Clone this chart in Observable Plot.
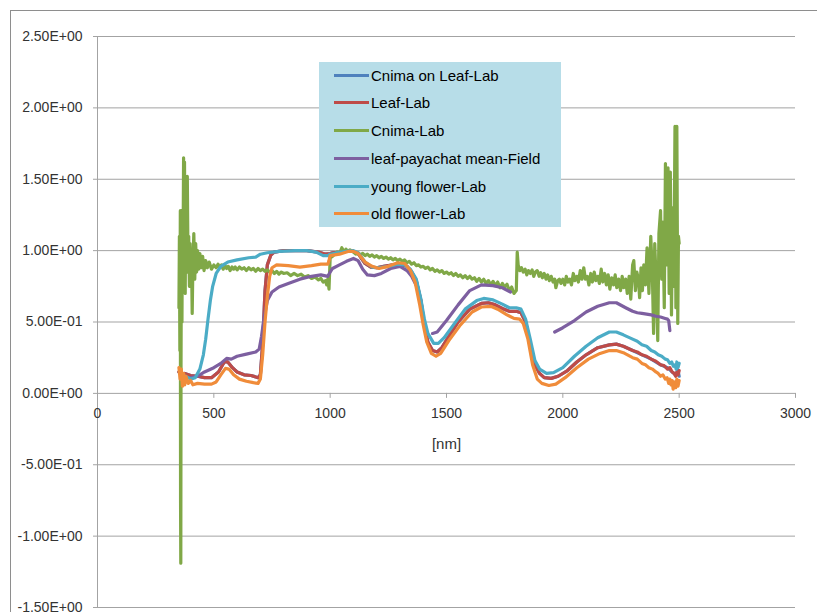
<!DOCTYPE html>
<html><head><meta charset="utf-8">
<script src="https://cdn.jsdelivr.net/npm/d3@7"></script>
<script src="https://cdn.jsdelivr.net/npm/@observablehq/plot@0.6"></script>
<style>
body{margin:0;background:#fff;font-family:"Liberation Sans",Arial,sans-serif}
#wrap{position:relative;width:817px;height:612px;overflow:hidden;background:#fff}
#border{position:absolute;left:10px;top:10px;width:900px;height:700px;border:1.5px solid #8e8e8e}
#plot{position:absolute;left:0;top:0}
#legend{position:absolute;left:319px;top:62px;width:242px;height:165px;background:#b7dde8}
.row{position:absolute;left:15px;height:20px;display:flex;align-items:center;font-size:15px;color:#000;white-space:nowrap}
.sw{width:35px;height:3px;margin-right:2px}
</style></head>
<body>
<div id="wrap"><div id="border"></div><div id="plot"></div><div id="legend"></div></div>
<script>
const seriesNames = ["Cnima on Leaf-Lab","Leaf-Lab","Cnima-Lab","leaf-payachat mean-Field","young flower-Lab","old flower-Lab"];
const seriesColors = ["#4f81bd","#be4b48","#80a847","#7d5fa0","#4bacc6","#f08c3a"];
const yTicks = [-1.5,-1,-0.5,0,0.5,1,1.5,2,2.5];
const xTicks = [0,500,1000,1500,2000,2500,3000];

const cnimaOnLeafLab = [[350,0.15],[360,0.13],[375,0.14],[400,0.125],[430,0.12],[460,0.11],[490,0.11],[520,0.15],[545,0.22],[560,0.22],[580,0.18],[600,0.15],[630,0.13],[660,0.125],[690,0.11],[700,0.13],[710,0.35],[720,0.72],[730,0.9],[745,0.97],[760,0.99],[800,1.0],[850,1.0],[900,1.0],[950,0.99],[980,0.975],[1000,0.98],[1010,0.985],[1050,0.99],[1080,1.0],[1100,0.995],[1120,0.98],[1150,0.91],[1175,0.885],[1200,0.88],[1230,0.89],[1270,0.9],[1300,0.905],[1330,0.89],[1350,0.85],[1370,0.79],[1390,0.65],[1405,0.48],[1420,0.36],[1440,0.3],[1460,0.29],[1480,0.32],[1510,0.4],[1550,0.5],[1600,0.59],[1650,0.63],[1680,0.635],[1710,0.62],[1740,0.595],[1770,0.575],[1800,0.575],[1820,0.565],[1840,0.5],[1860,0.35],[1880,0.2],[1900,0.14],[1920,0.11],[1950,0.105],[1980,0.12],[2020,0.16],[2060,0.22],[2100,0.27],[2150,0.32],[2200,0.34],[2230,0.345],[2260,0.33],[2300,0.3],[2340,0.27],[2380,0.24],[2420,0.2],[2450,0.18],[2470,0.15],[2485,0.13],[2495,0.16],[2500,0.12]];

const leafLab = [[350,0.15],[360,0.13],[375,0.14],[400,0.125],[430,0.12],[460,0.11],[490,0.11],[520,0.15],[545,0.22],[560,0.22],[580,0.18],[600,0.15],[630,0.13],[660,0.125],[690,0.11],[700,0.13],[710,0.35],[720,0.72],[730,0.9],[745,0.97],[760,0.99],[800,1.0],[850,1.0],[900,1.0],[950,0.99],[980,0.975],[1000,0.98],[1010,0.985],[1050,0.99],[1080,1.0],[1100,0.995],[1120,0.98],[1150,0.91],[1175,0.885],[1200,0.88],[1230,0.89],[1270,0.9],[1300,0.905],[1330,0.89],[1350,0.85],[1370,0.79],[1390,0.65],[1405,0.48],[1420,0.36],[1440,0.3],[1460,0.29],[1480,0.32],[1510,0.4],[1550,0.5],[1600,0.59],[1650,0.63],[1680,0.635],[1710,0.62],[1740,0.595],[1770,0.575],[1800,0.575],[1820,0.565],[1840,0.5],[1860,0.35],[1880,0.2],[1900,0.14],[1920,0.11],[1950,0.105],[1980,0.12],[2020,0.16],[2060,0.22],[2100,0.27],[2150,0.32],[2200,0.34],[2230,0.345],[2260,0.33],[2300,0.3],[2320,0.29],[2340,0.27],[2360,0.26],[2380,0.24],[2400,0.225],[2420,0.2],[2435,0.195],[2450,0.17],[2460,0.18],[2470,0.15],[2478,0.14],[2485,0.12],[2490,0.15],[2495,0.13],[2500,0.16]];

const cnimaLab = [[350,0.6],[352,1.1],[354,0.3],[356,1.28],[357,-0.77],[358,-1.19],[359,0.2],[361,1.28],[363,0.5],[365,1.2],[367,0.8],[370,1.65],[372,0.9],[374,1.62],[377,0.7],[380,1.52],[383,0.85],[386,1.52],[389,0.9],[392,1.1],[395,0.75],[398,1.05],[401,0.8],[404,0.95],[407,0.56],[410,0.9],[414,1.12],[418,0.8],[422,1.05],[426,0.85],[430,1.0],[435,0.87],[440,0.98],[446,0.88],[452,0.96],[458,0.86],[465,0.93],[472,0.88],[480,0.92],[490,0.87],[500,0.9],[510,0.88],[518,0.905],[525,0.88],[533,0.9],[540,0.87],[548,0.895],[555,0.875],[562,0.89],[570,0.86],[578,0.885],[585,0.87],[592,0.885],[600,0.865],[610,0.885],[620,0.87],[630,0.88],[640,0.86],[650,0.88],[660,0.865],[670,0.875],[680,0.855],[690,0.875],[700,0.86],[710,0.87],[720,0.855],[730,0.865],[740,0.85],[750,0.86],[760,0.84],[770,0.855],[780,0.835],[790,0.85],[800,0.84],[815,0.845],[830,0.825],[845,0.84],[860,0.825],[875,0.835],[890,0.815],[905,0.825],[920,0.805],[935,0.815],[950,0.795],[960,0.805],[970,0.78],[980,0.79],[985,0.76],[990,0.8],[995,0.73],[1000,0.95],[1010,0.96],[1020,0.975],[1030,0.99],[1040,0.98],[1050,1.02],[1060,0.99],[1068,1.01],[1075,0.995],[1085,1.005],[1100,0.99],[1110,0.975],[1120,0.985],[1130,0.97],[1140,0.98],[1150,0.965],[1160,0.975],[1170,0.96],[1180,0.97],[1190,0.955],[1200,0.965],[1210,0.95],[1220,0.96],[1230,0.945],[1240,0.955],[1250,0.94],[1260,0.95],[1270,0.935],[1280,0.945],[1290,0.93],[1300,0.94],[1310,0.925],[1320,0.935],[1330,0.915],[1340,0.925],[1350,0.905],[1360,0.915],[1370,0.895],[1380,0.9],[1390,0.885],[1400,0.89],[1410,0.875],[1420,0.885],[1430,0.865],[1440,0.875],[1450,0.855],[1460,0.865],[1470,0.85],[1480,0.86],[1490,0.84],[1500,0.85],[1510,0.835],[1520,0.845],[1530,0.825],[1540,0.84],[1550,0.82],[1560,0.83],[1570,0.81],[1580,0.825],[1590,0.805],[1600,0.82],[1610,0.8],[1620,0.81],[1630,0.785],[1640,0.805],[1650,0.78],[1660,0.8],[1670,0.77],[1680,0.79],[1690,0.76],[1700,0.785],[1710,0.755],[1720,0.78],[1730,0.74],[1740,0.77],[1750,0.745],[1760,0.765],[1770,0.72],[1780,0.745],[1790,0.7],[1800,0.72],[1804,0.99],[1808,0.9],[1815,0.86],[1822,0.88],[1830,0.85],[1838,0.87],[1845,0.83],[1852,0.86],[1860,0.84],[1868,0.865],[1875,0.82],[1882,0.85],[1890,0.86],[1898,0.82],[1905,0.845],[1912,0.81],[1920,0.84],[1928,0.8],[1935,0.83],[1942,0.79],[1950,0.82],[1958,0.78],[1965,0.8],[1970,0.74],[1978,0.79],[1985,0.8],[1992,0.77],[2000,0.8],[2008,0.76],[2015,0.82],[2022,0.78],[2030,0.8],[2037,0.76],[2045,0.84],[2052,0.79],[2060,0.82],[2067,0.78],[2075,0.86],[2082,0.8],[2090,0.88],[2097,0.8],[2105,0.82],[2112,0.76],[2120,0.84],[2127,0.78],[2135,0.85],[2142,0.79],[2150,0.82],[2157,0.77],[2165,0.87],[2172,0.78],[2180,0.84],[2187,0.76],[2195,0.83],[2202,0.73],[2210,0.81],[2218,0.76],[2225,0.83],[2232,0.74],[2240,0.8],[2248,0.72],[2255,0.82],[2262,0.74],[2270,0.8],[2277,0.7],[2285,0.82],[2292,0.66],[2300,0.9],[2305,0.93],[2312,0.72],[2318,0.85],[2325,0.8],[2330,0.67],[2336,0.88],[2342,0.72],[2348,0.9],[2355,0.76],[2362,1.02],[2370,0.7],[2378,1.1],[2385,0.82],[2390,0.42],[2395,1.05],[2402,0.75],[2408,0.37],[2413,1.12],[2420,1.28],[2425,0.8],[2430,1.2],[2436,0.6],[2441,1.61],[2446,0.9],[2452,1.58],[2457,0.7],[2462,1.55],[2467,0.55],[2472,1.3],[2477,0.75],[2482,1.87],[2486,0.6],[2490,1.87],[2494,0.49],[2497,1.1],[2500,1.05]];

const leafPayachatField = [[400,0.11],[430,0.12],[460,0.15],[500,0.18],[530,0.21],[555,0.245],[575,0.24],[600,0.26],[640,0.275],[680,0.29],[695,0.31],[705,0.4],[715,0.52],[730,0.65],[750,0.71],[780,0.745],[820,0.77],[870,0.8],[920,0.82],[960,0.83],[990,0.82],[1000,0.85],[1010,0.875],[1040,0.9],[1070,0.925],[1100,0.945],[1120,0.93],[1140,0.87],[1160,0.83],[1190,0.825],[1220,0.84],[1260,0.875],[1300,0.89],[1330,0.86],[1350,0.82],[1375,0.74],[1400,null],[1440,0.42],[1460,0.43],[1500,0.51],[1550,0.62],[1600,0.72],[1650,0.76],[1700,0.755],[1740,0.74],[1775,0.71],[1850,null],[1965,0.43],[2000,0.46],[2050,0.51],[2100,0.57],[2150,0.61],[2200,0.635],[2230,0.635],[2270,0.6],[2300,0.575],[2320,0.565],[2340,0.56],[2360,0.555],[2380,0.55],[2400,0.54],[2420,0.535],[2440,0.525],[2450,0.52],[2455,0.51],[2460,0.44]];

const youngFlowerLab = [[380,0.12],[400,0.1],[420,0.11],[440,0.17],[455,0.27],[465,0.38],[475,0.52],[485,0.65],[495,0.75],[510,0.84],[530,0.89],[560,0.92],[600,0.935],[650,0.95],[680,0.955],[700,0.975],[730,0.985],[780,0.995],[850,1.0],[900,1.0],[940,0.99],[970,0.965],[990,0.965],[1000,0.975],[1030,0.985],[1070,0.995],[1100,1.0],[1120,0.985],[1150,0.92],[1180,0.885],[1210,0.88],[1250,0.89],[1290,0.905],[1320,0.9],[1345,0.87],[1370,0.8],[1390,0.66],[1405,0.52],[1420,0.42],[1445,0.35],[1465,0.35],[1490,0.39],[1530,0.48],[1580,0.59],[1630,0.65],[1660,0.665],[1700,0.655],[1740,0.625],[1770,0.6],[1800,0.6],[1820,0.59],[1840,0.52],[1860,0.38],[1880,0.23],[1900,0.17],[1930,0.14],[1960,0.145],[2000,0.18],[2050,0.26],[2100,0.33],[2150,0.39],[2200,0.43],[2230,0.43],[2260,0.41],[2300,0.38],[2320,0.365],[2340,0.34],[2360,0.33],[2380,0.3],[2395,0.29],[2410,0.27],[2425,0.26],[2440,0.24],[2450,0.235],[2460,0.21],[2468,0.22],[2475,0.19],[2482,0.2],[2487,0.17],[2490,0.22],[2495,0.18],[2500,0.21]];

const oldFlowerLab = [[350,0.18],[355,0.1],[360,0.17],[365,0.05],[370,0.14],[375,0.06],[380,0.12],[390,0.07],[400,0.09],[410,0.06],[430,0.07],[460,0.065],[490,0.065],[510,0.08],[530,0.13],[550,0.175],[565,0.17],[585,0.13],[610,0.1],[640,0.085],[670,0.075],[690,0.07],[700,0.1],[710,0.27],[720,0.5],[730,0.68],[740,0.82],[750,0.88],[770,0.9],[820,0.895],[870,0.885],[920,0.895],[960,0.905],[990,0.905],[995,0.93],[1000,0.965],[1040,0.975],[1080,0.995],[1100,0.995],[1120,0.98],[1150,0.92],[1180,0.89],[1210,0.875],[1250,0.89],[1290,0.915],[1320,0.91],[1345,0.86],[1365,0.78],[1385,0.62],[1400,0.48],[1415,0.36],[1435,0.28],[1455,0.26],[1475,0.28],[1510,0.37],[1560,0.48],[1610,0.57],[1650,0.605],[1690,0.61],[1720,0.59],[1760,0.55],[1790,0.525],[1815,0.52],[1830,0.49],[1850,0.38],[1870,0.2],[1890,0.1],[1910,0.07],[1940,0.055],[1970,0.065],[2010,0.11],[2060,0.18],[2110,0.24],[2160,0.28],[2200,0.3],[2230,0.3],[2260,0.285],[2300,0.25],[2320,0.24],[2340,0.21],[2355,0.2],[2370,0.18],[2385,0.17],[2400,0.15],[2410,0.14],[2420,0.12],[2430,0.13],[2440,0.1],[2448,0.11],[2455,0.07],[2460,0.1],[2465,0.06],[2470,0.09],[2474,0.03],[2480,0.08],[2485,0.04],[2490,0.1],[2495,0.05],[2500,0.09]];

const allSeries = [cnimaOnLeafLab, leafLab, cnimaLab, leafPayachatField, youngFlowerLab, oldFlowerLab];

function fmt(v){
  const s = v.toExponential(2);
  const [m, e] = s.split("e");
  const sign = e[0] === "-" ? "-" : "+";
  const digits = e.replace(/[+-]/, "").padStart(2, "0");
  return m + "E" + sign + digits;
}

const grid = "#a3a3a3";
const lineMarks = allSeries.map((s, i) => Plot.line(s, {
  x: d => d[0], y: d => d[1], stroke: seriesColors[i], strokeWidth: 3.2,
  strokeLinejoin: "round", strokeLinecap: "round"
}));

const chart = Plot.plot({
  width: 817, height: 612,
  marginLeft: 97, marginRight: 22, marginTop: 36, marginBottom: 5,
  x: {domain: [0, 3000], axis: null},
  y: {domain: [-1.5, 2.5], axis: null},
  style: {fontFamily: "'Liberation Sans', Arial, sans-serif", fontSize: "14px", color: "#333", background: "transparent", overflow: "visible"},
  marks: [
    Plot.ruleY(yTicks, {stroke: grid, strokeWidth: 1}),
    Plot.ruleX([0], {stroke: grid, strokeWidth: 1}),
    Plot.axisY(yTicks, {tickFormat: fmt, tickSize: 4, tickPadding: 11, label: null, stroke: grid, fill: "#333", fontSize: 14}),
    Plot.ruleX(xTicks, {x: d => d, y1: 0, y2: -0.035, stroke: grid, strokeWidth: 1}),
    Plot.text(xTicks, {x: d => d, y: () => 0, dy: 20, text: d => String(d), fontSize: 14, fill: "#333"}),
    Plot.text(["[nm]"], {x: () => 1500, y: () => 0, dy: 51, text: d => d, fontSize: 15, fill: "#333"}),
    ...lineMarks
  ]
});
document.getElementById("plot").appendChild(chart);

const legend = document.getElementById("legend");
const rowCenters = [13, 40, 68, 96, 124, 151];
seriesNames.forEach((n, i) => {
  const r = document.createElement("div");
  r.className = "row";
  r.style.top = (rowCenters[i] - 10) + "px";
  r.innerHTML = `<span class="sw" style="background:${seriesColors[i]}"></span><span>${n}</span>`;
  legend.appendChild(r);
});
</script>
</body></html>
